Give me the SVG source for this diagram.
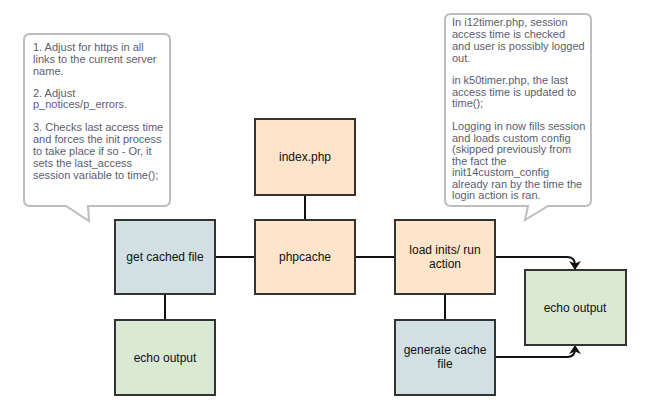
<svg xmlns="http://www.w3.org/2000/svg" width="649" height="412" viewBox="0 0 649 412">
<style>
.node rect{stroke:#333;stroke-width:2}
.peach{fill:#fde4cb}
.blue{fill:#d3e0e3}
.green{fill:#d9e9d4}
.nt{font-family:"Liberation Sans",Arial,sans-serif;font-size:12px;fill:#111;text-anchor:middle}
.ct{font-family:"Liberation Sans",Arial,sans-serif;font-size:11px;fill:#5a6070}
.callout{fill:#fff;stroke:#bdbdbd;stroke-width:2}
.conn path{fill:none;stroke:#111;stroke-width:2}
</style>
<defs>
<marker id="arr" viewBox="0 0 9 12" refX="9" refY="6" markerWidth="9" markerHeight="12" markerUnits="userSpaceOnUse" orient="auto">
<path d="M0,0 L9,6 L0,12 L2.5,6 z" fill="#111"/>
</marker>
</defs>
<rect width="649" height="412" fill="#fff"/>
<g id="callout-left">
<path class="callout" d="M30,34 H164 Q170,34 170,40 V200 Q170,206 164,206 H88 L89,221 L66,206 H30 Q24,206 24,200 V40 Q24,34 30,34 Z"/>
<text class="ct" x="33">
<tspan x="33" y="51">1. Adjust for https in all</tspan>
<tspan x="33" y="63">links to the current server</tspan>
<tspan x="33" y="75">name.</tspan>
<tspan x="33" y="97">2. Adjust</tspan>
<tspan x="33" y="108">p_notices/p_errors.</tspan>
<tspan x="33" y="131">3. Checks last access time</tspan>
<tspan x="33" y="143">and forces the init process</tspan>
<tspan x="33" y="155">to take place if so - Or, it</tspan>
<tspan x="33" y="167">sets the last_access</tspan>
<tspan x="33" y="179">session variable to time();</tspan>
</text>
</g>
<g id="callout-right">
<path class="callout" d="M451,14 H585 Q591,14 591,20 V200 Q591,206 585,206 H548 L525,220 L528,206 H451 Q445,206 445,200 V20 Q445,14 451,14 Z"/>
<text class="ct">
<tspan x="452" y="26">In i12timer.php, session</tspan>
<tspan x="452" y="38">access time is checked</tspan>
<tspan x="452" y="50">and user is possibly logged</tspan>
<tspan x="452" y="62">out.</tspan>
<tspan x="452" y="84">in k50timer.php, the last</tspan>
<tspan x="452" y="96">access time is updated to</tspan>
<tspan x="452" y="107">time();</tspan>
<tspan x="452" y="130">Logging in now fills session</tspan>
<tspan x="452" y="142">and loads custom config</tspan>
<tspan x="452" y="153">(skipped previously from</tspan>
<tspan x="452" y="165">the fact the</tspan>
<tspan x="452" y="176">init14custom_config</tspan>
<tspan x="452" y="188">already ran by the time the</tspan>
<tspan x="452" y="199">login action is ran.</tspan>
</text>
</g>
<g class="conn" id="connectors">
<path d="M305,195 V220"/>
<path d="M215,257 H255"/>
<path d="M355,257 H395"/>
<path d="M165,294 V320"/>
<path d="M445,294 V320"/>
<path d="M495,257 H567 Q575,257 575,265 V270" marker-end="url(#arr)"/>
<path d="M495,357 H567 Q575,357 575,349 V345" marker-end="url(#arr)"/>
</g>
<g id="index" class="node"><rect class="peach" x="255" y="119" width="100" height="76"/><text class="nt" x="305" y="161">index.php</text></g>
<g id="phpcache" class="node"><rect class="peach" x="255" y="220" width="100" height="74"/><text class="nt" x="305" y="261">phpcache</text></g>
<g id="getcached" class="node"><rect class="blue" x="115" y="220" width="100" height="74"/><text class="nt" x="165" y="261">get cached file</text></g>
<g id="echo1" class="node"><rect class="green" x="115" y="320" width="100" height="75"/><text class="nt" x="165" y="362">echo output</text></g>
<g id="loadinits" class="node"><rect class="peach" x="395" y="220" width="100" height="74"/><text class="nt"><tspan x="445" y="254">load inits/ run</tspan><tspan x="445" y="268">action</tspan></text></g>
<g id="gencache" class="node"><rect class="blue" x="395" y="320" width="100" height="75"/><text class="nt"><tspan x="445" y="354">generate cache</tspan><tspan x="445" y="368">file</tspan></text></g>
<g id="echo2" class="node"><rect class="green" x="525" y="270" width="101" height="75"/><text class="nt" x="575" y="312">echo output</text></g>
</svg>
